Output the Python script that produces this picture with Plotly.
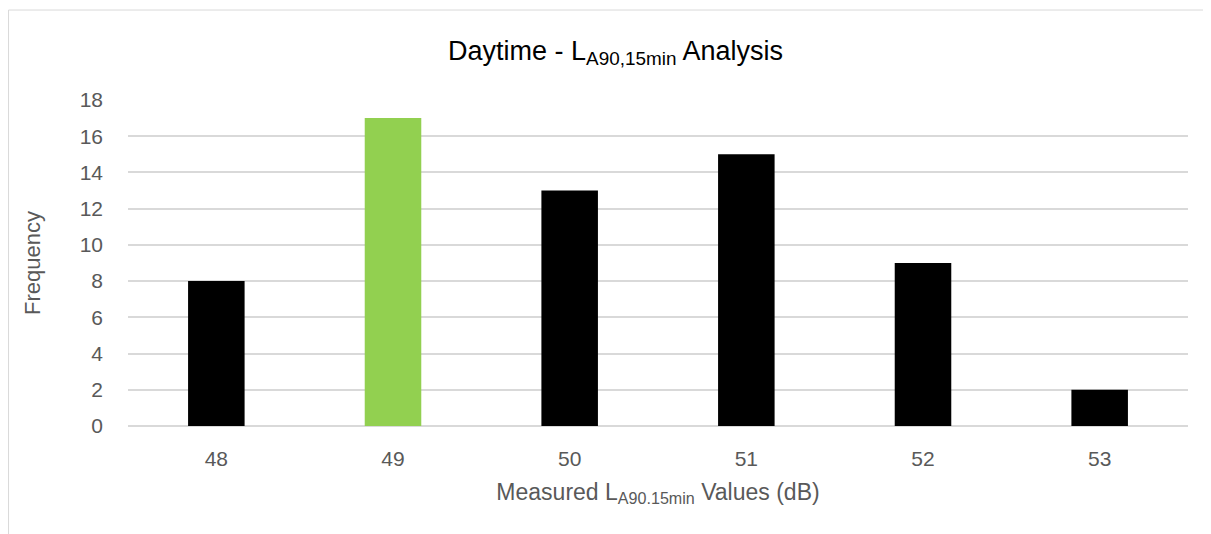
import plotly.graph_objects as go

categories = ["48", "49", "50", "51", "52", "53"]
frequency = [8, 17, 13, 15, 9, 2]
bar_colors = ["#000000", "#92d050", "#000000", "#000000", "#000000", "#000000"]
y_ticks = [0, 2, 4, 6, 8, 10, 12, 14, 16, 18]

fig = go.Figure()
fig.add_trace(go.Bar(
    x=categories, y=frequency,
    marker=dict(color=bar_colors, line=dict(width=0)),
    width=0.32,
    hoverinfo="x+y",
))

font_family = "Liberation Sans, Arial, sans-serif"
fig.update_layout(
    width=1203, height=526,
    margin=dict(l=120, r=23, t=92, b=108),
    paper_bgcolor="white", plot_bgcolor="white",
    showlegend=False,
    title=dict(
        text="Daytime - L<sub>A90,15min</sub> Analysis",
        x=0.505, xanchor="center", y=0.92, yanchor="middle",
        font=dict(family=font_family, size=27, color="#000000"),
    ),
    xaxis=dict(
        type="category",
        showgrid=False, zeroline=False, showline=False,
        ticks="", ticklabelstandoff=18,
        tickfont=dict(family=font_family, size=21, color="#595959"),
        title=dict(text="Measured L<sub>A90.15min</sub> Values (dB)",
                   font=dict(family=font_family, size=23, color="#595959"),
                   standoff=14),
    ),
    yaxis=dict(
        range=[0, 18], tickvals=y_ticks,
        showgrid=True, gridcolor="#d9d9d9", gridwidth=1.5,
        zeroline=True, zerolinecolor="#d9d9d9", zerolinewidth=1.5,
        ticks="", ticklabelstandoff=24,
        tickfont=dict(family=font_family, size=21, color="#595959"),
        title=dict(text="Frequency",
                   font=dict(family=font_family, size=22, color="#595959"),
                   standoff=32),
    ),
    shapes=[dict(
        type="rect", xref="paper", yref="paper",
        x0=-0.1127, x1=1.04, y0=-0.5, y1=1.276,
        line=dict(color="#d9d9d9", width=1), layer="below",
    )],
)

fig.write_html("out.html")
